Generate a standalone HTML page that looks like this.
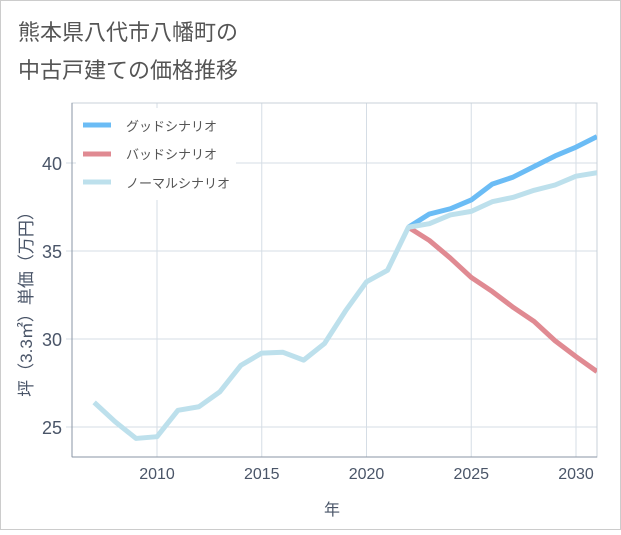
<!DOCTYPE html>
<html><head><meta charset="utf-8"><style>
body{margin:0;background:#fff;}
svg text{font-family:"Liberation Sans","Noto Sans CJK JP",sans-serif;}
</style></head><body>
<svg width="621" height="530">
<rect x="0.5" y="0.5" width="620" height="529" fill="#fff" stroke="#ccc"/>
<text x="18" y="40" font-size="22" fill="#555">熊本県八代市八幡町の</text>
<text x="18" y="78" font-size="22" fill="#555">中古戸建ての価格推移</text>
<g id="grid"></g>
<rect x="72" y="103" width="525" height="354" fill="none" stroke="#c8d0d8"/>
<line x1="72" y1="103" x2="72" y2="457" stroke="#8a96a4"/>
<line x1="72" y1="457" x2="597" y2="457" stroke="#8a96a4"/>
<g id="series"></g>
<g>
<rect x="76" y="108" width="160" height="92" fill="#fff"/>
<line x1="83" y1="125" x2="111" y2="125" stroke="#6bbcf5" stroke-width="5"/>
<text x="126" y="131" font-size="13" fill="#555">グッドシナリオ</text>
<line x1="83" y1="154" x2="111" y2="154" stroke="#e08a92" stroke-width="5"/>
<text x="126" y="159" font-size="13" fill="#555">バッドシナリオ</text>
<line x1="83" y1="182" x2="111" y2="182" stroke="#bde0ec" stroke-width="5"/>
<text x="126" y="188" font-size="13" fill="#555">ノーマルシナリオ</text>
</g>
<text x="332" y="515" font-size="16" fill="#4a5568" text-anchor="middle">年</text>
<text transform="translate(32,300) rotate(-90)" font-size="17" fill="#4a5568" text-anchor="middle">坪（3.3㎡）単価（万円）</text>
</svg>
<script>
const years=[2007,2008,2009,2010,2011,2012,2013,2014,2015,2016,2017,2018,2019,2020,2021,2022,2023,2024,2025,2026,2027,2028,2029,2030,2031];
const normal=[26.4,25.3,24.35,24.45,25.95,26.15,27.0,28.5,29.2,29.25,28.8,29.75,31.6,33.25,33.9,36.35,36.55,37.05,37.25,37.8,38.05,38.45,38.75,39.25,39.45];
const futureYears=[2022,2023,2024,2025,2026,2027,2028,2029,2030,2031];
const good=[36.35,37.1,37.4,37.9,38.8,39.2,39.8,40.4,40.9,41.5];
const bad=[36.35,35.6,34.6,33.5,32.7,31.8,31.0,29.9,29.0,28.15];
const xTicks=[2010,2015,2020,2025,2030];
const yTicks=[25,30,35,40];
const NS='http://www.w3.org/2000/svg';
const x=v=>157+(v-2010)*20.95;
const y=v=>427-(v-25)*17.6;
const grid=document.getElementById('grid'),ser=document.getElementById('series');
function mk(tag,attrs,parent){const e=document.createElementNS(NS,tag);for(const k in attrs)e.setAttribute(k,attrs[k]);parent.appendChild(e);return e;}
xTicks.forEach(t=>{
 const l=mk('line',{x1:x(t),x2:x(t),y1:103,y2:457,stroke:'#d5dde5'},grid);
 
 
 const tx=mk('text',{x:x(t),y:479,'font-size':16,fill:'#4a5568','text-anchor':'middle'},grid);
 tx.textContent=t;
 
 
});
yTicks.forEach(t=>{
 const l=mk('line',{x1:66,x2:597,y1:y(t),y2:y(t),stroke:'#d5dde5'},grid);
 
 
 const tx=mk('text',{x:62,y:y(t)+7,'font-size':18,fill:'#4a5568','text-anchor':'end'},grid);
 tx.textContent=t;
 
 
});
function line(xs,vs,color,name){
 const p=mk('polyline',{points:xs.map((d,i)=>x(d)+','+y(vs[i])).join(' '),fill:'none',stroke:color,'stroke-width':5,'stroke-linejoin':'round'},ser);
 
 
}
const clip=mk('clipPath',{id:'c'},document.querySelector('svg'));
mk('rect',{x:72,y:103,width:525,height:354},clip);
ser.setAttribute('clip-path','url(#c)');
line(futureYears,bad,'#e08a92','bad-scenario-line');
line(futureYears,good,'#6bbcf5','good-scenario-line');
line(years,normal,'#bde0ec','normal-scenario-line');
</script>
</body></html>
